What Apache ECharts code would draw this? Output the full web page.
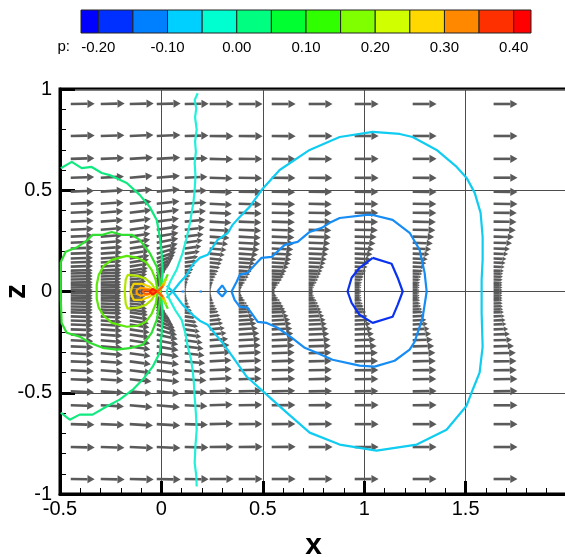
<!DOCTYPE html>
<html>
<head>
<meta charset="utf-8">
<script src="https://cdn.jsdelivr.net/npm/echarts@6/dist/echarts.min.js"></script>
<style>
    html, body { margin: 0; padding: 0; background: #fff; }
    #chart { width: 565px; height: 557px; }
</style>
</head>
<body>
<div id="chart"></div>
<script>
// colour legend (flood levels)
var levelEdges = [-0.225, -0.2, -0.15, -0.1, -0.05, 0, 0.05, 0.1, 0.15, 0.2, 0.25, 0.3, 0.35, 0.4, 0.425];
var floodColors = ['#0000ff', '#0030ff', '#0080ff', '#00d0ff', '#00ffd0', '#00ff80', '#00ff30',
    '#30ff00', '#80ff00', '#d0ff00', '#ffd800', '#ff8800', '#ff3000', '#ff0000'];
var legendTicks = [-0.2, -0.1, 0, 0.1, 0.2, 0.3, 0.4];

// vector grid: column x positions, row z positions (upper half, mirrored below)
var colX = [-0.447, -0.299, -0.156, -0.023, 0.115, 0.238, 0.381, 0.544, 0.726, 0.953, 1.239, 1.638];
var rowZ = [0.926, 0.768, 0.655, 0.562, 0.493, 0.433, 0.389, 0.345, 0.305, 0.271, 0.241, 0.212,
    0.187, 0.163, 0.143, 0.123, 0.103, 0.089, 0.074, 0.059, 0.044, 0.032, 0.020, 0.007];

// u component per column (same order as rowZ)
var uCols = [
    [1.00, 1.00, 0.99, 0.98, 0.97, 0.97, 0.96, 0.96, 0.95, 0.95, 0.94, 0.94, 0.94, 0.93, 0.93, 0.93, 0.92, 0.92, 0.92, 0.92, 0.92, 0.92, 0.92, 0.92],
    [1.00, 0.99, 0.98, 0.97, 0.96, 0.95, 0.94, 0.93, 0.92, 0.91, 0.90, 0.90, 0.89, 0.88, 0.88, 0.87, 0.87, 0.86, 0.86, 0.86, 0.85, 0.85, 0.85, 0.85],
    [1.00, 0.99, 0.97, 0.95, 0.93, 0.91, 0.90, 0.88, 0.87, 0.86, 0.85, 0.84, 0.83, 0.82, 0.80, 0.78, 0.76, 0.74, 0.72, 0.70, 0.68, 0.66, 0.65, 0.64],
    [1.00, 0.99, 0.98, 0.97, 0.96, 0.95, 0.94, 0.93, 0.92, 0.91, 0.90, 0.88, 0.85, 0.80, 0.75, 0.68, 0.60, 0.52, 0.44, 0.36, 0.28, 0.20, 0.14, 0.08],
    [1.00, 0.99, 0.97, 0.95, 0.93, 0.91, 0.89, 0.86, 0.83, 0.79, 0.75, 0.69, 0.63, 0.56, 0.50, 0.43, 0.36, 0.30, 0.24, 0.18, 0.14, 0.10, 0.08, 0.06],
    [1.00, 0.99, 0.98, 0.96, 0.95, 0.94, 0.92, 0.91, 0.88, 0.83, 0.77, 0.70, 0.63, 0.56, 0.50, 0.44, 0.37, 0.31, 0.25, 0.20, 0.15, 0.11, 0.08, 0.06],
    [1.00, 1.00, 0.99, 0.98, 0.97, 0.96, 0.96, 0.95, 0.94, 0.92, 0.90, 0.86, 0.80, 0.74, 0.68, 0.61, 0.54, 0.48, 0.42, 0.35, 0.27, 0.20, 0.14, 0.10],
    [1.00, 1.00, 0.99, 0.99, 0.98, 0.98, 0.97, 0.97, 0.96, 0.95, 0.94, 0.90, 0.86, 0.82, 0.77, 0.70, 0.62, 0.56, 0.50, 0.43, 0.35, 0.27, 0.20, 0.15],
    [1.00, 1.00, 0.99, 0.99, 0.98, 0.97, 0.97, 0.96, 0.95, 0.93, 0.90, 0.86, 0.81, 0.76, 0.71, 0.65, 0.58, 0.52, 0.46, 0.40, 0.34, 0.28, 0.23, 0.20],
    [1.00, 1.00, 1.00, 1.00, 0.99, 0.99, 0.99, 0.98, 0.97, 0.92, 0.87, 0.80, 0.74, 0.67, 0.61, 0.54, 0.48, 0.43, 0.38, 0.34, 0.31, 0.29, 0.28, 0.28],
    [1.00, 1.00, 1.00, 1.00, 1.00, 0.99, 0.99, 0.97, 0.95, 0.90, 0.84, 0.77, 0.70, 0.63, 0.57, 0.50, 0.44, 0.40, 0.36, 0.33, 0.31, 0.30, 0.29, 0.29],
    [1.00, 1.00, 1.00, 1.00, 1.00, 1.00, 0.97, 0.96, 0.93, 0.85, 0.77, 0.68, 0.61, 0.54, 0.50, 0.46, 0.43, 0.40, 0.39, 0.38, 0.37, 0.37, 0.37, 0.37]
];
// w component per column (upper half; sign flips below the axis)
var wCols = [
    [0.01, 0.02, 0.03, 0.03, 0.04, 0.04, 0.04, 0.04, 0.04, 0.04, 0.04, 0.04, 0.03, 0.03, 0.03, 0.03, 0.02, 0.02, 0.02, 0.02, 0.01, 0.01, 0.01, 0.00],
    [0.02, 0.03, 0.04, 0.05, 0.06, 0.06, 0.07, 0.07, 0.07, 0.07, 0.07, 0.07, 0.06, 0.06, 0.06, 0.05, 0.05, 0.04, 0.04, 0.03, 0.02, 0.02, 0.01, 0.00],
    [0.02, 0.04, 0.06, 0.08, 0.09, 0.10, 0.11, 0.12, 0.12, 0.13, 0.13, 0.13, 0.13, 0.13, 0.13, 0.12, 0.11, 0.10, 0.09, 0.08, 0.06, 0.04, 0.03, 0.01],
    [0.02, 0.04, 0.06, 0.08, 0.10, 0.11, 0.12, 0.13, 0.14, 0.16, 0.18, 0.20, 0.24, 0.28, 0.32, 0.36, 0.40, 0.43, 0.45, 0.45, 0.42, 0.36, 0.26, 0.10],
    [0.01, 0.02, 0.03, 0.04, 0.05, 0.06, 0.07, 0.08, 0.09, 0.10, 0.10, 0.10, 0.09, 0.08, 0.07, 0.06, 0.05, 0.04, 0.03, 0.02, 0.02, 0.01, 0.01, 0.00],
    [0.00, -0.01, -0.02, -0.03, -0.03, -0.04, -0.04, -0.05, -0.05, -0.06, -0.06, -0.06, -0.06, -0.06, -0.05, -0.05, -0.04, -0.04, -0.03, -0.03, -0.02, -0.02, -0.01, 0.00],
    [0.00, -0.01, -0.01, -0.02, -0.02, -0.03, -0.03, -0.04, -0.04, -0.05, -0.05, -0.05, -0.05, -0.05, -0.04, -0.04, -0.04, -0.03, -0.03, -0.02, -0.02, -0.01, -0.01, 0.00],
    [0.00, -0.01, -0.01, -0.01, -0.02, -0.02, -0.02, -0.03, -0.03, -0.04, -0.04, -0.04, -0.04, -0.04, -0.04, -0.03, -0.03, -0.03, -0.02, -0.02, -0.02, -0.01, -0.01, 0.00],
    [0.00, 0.00, -0.01, -0.01, -0.01, -0.02, -0.02, -0.02, -0.03, -0.03, -0.03, -0.03, -0.03, -0.03, -0.03, -0.03, -0.02, -0.02, -0.02, -0.02, -0.01, -0.01, -0.01, 0.00],
    [0.00, 0.00, 0.00, -0.01, -0.01, -0.01, -0.01, -0.02, -0.02, -0.02, -0.03, -0.03, -0.03, -0.03, -0.03, -0.02, -0.02, -0.02, -0.02, -0.01, -0.01, -0.01, 0.00, 0.00],
    [0.00, 0.00, 0.00, -0.01, -0.01, -0.01, -0.01, -0.02, -0.02, -0.02, -0.03, -0.03, -0.03, -0.03, -0.03, -0.02, -0.02, -0.02, -0.02, -0.01, -0.01, -0.01, 0.00, 0.00],
    [0.00, 0.00, 0.00, 0.00, -0.01, -0.01, -0.01, -0.01, -0.02, -0.02, -0.02, -0.02, -0.02, -0.02, -0.02, -0.02, -0.01, -0.01, -0.01, -0.01, -0.01, 0.00, 0.00, 0.00]
];

// contour lines of p, [x, z]
var cM015 = [[1.042, 0.166], [1.135, 0.137], [1.165, 0.068], [1.190, 0.0], [1.165, -0.066], [1.140, -0.125],
    [1.042, -0.155], [0.977, -0.115], [0.938, -0.056], [0.918, 0.0], [0.938, 0.068], [0.977, 0.117], [1.042, 0.166]];
var cM010 = [[0.346, 0.0], [0.371, 0.048], [0.386, 0.082], [0.425, 0.092], [0.475, 0.147], [0.494, 0.166],
    [0.544, 0.171], [0.608, 0.230], [0.672, 0.245], [0.731, 0.294], [0.791, 0.314], [0.830, 0.339],
    [0.879, 0.363], [1.012, 0.378], [1.042, 0.378], [1.140, 0.354], [1.224, 0.290], [1.273, 0.206],
    [1.298, 0.092], [1.308, 0.0], [1.288, -0.130], [1.249, -0.248], [1.224, -0.287], [1.150, -0.342],
    [1.051, -0.371], [0.977, -0.366], [0.844, -0.337], [0.766, -0.302], [0.707, -0.278], [0.642, -0.228],
    [0.573, -0.179], [0.519, -0.155], [0.475, -0.150], [0.425, -0.080], [0.386, -0.075], [0.361, -0.041], [0.346, 0.0]];
var cM010Diamond = [[0.276, 0.0], [0.300, 0.030], [0.320, 0.0], [0.300, -0.025], [0.276, 0.0]];
var cM010DotA = [[0.100, 0.0], [0.106, 0.006], [0.112, 0.0], [0.106, -0.006], [0.100, 0.0]];
var cM010DotB = [[0.188, 0.0], [0.194, 0.006], [0.200, 0.0], [0.194, -0.006], [0.188, 0.0]];
var cM005 = [[0.026, -0.031], [0.056, 0.0], [0.090, 0.043], [0.125, 0.082], [0.154, 0.132], [0.189, 0.166],
    [0.228, 0.181], [0.277, 0.255], [0.327, 0.289], [0.351, 0.329], [0.386, 0.368], [0.435, 0.418],
    [0.494, 0.501], [0.583, 0.600], [0.731, 0.699], [0.879, 0.763], [1.042, 0.788], [1.175, 0.778],
    [1.239, 0.763], [1.357, 0.699], [1.456, 0.615], [1.505, 0.561], [1.545, 0.487], [1.574, 0.388],
    [1.584, 0.270], [1.584, 0.156], [1.579, 0.058], [1.579, -0.105], [1.584, -0.273], [1.569, -0.401],
    [1.535, -0.485], [1.505, -0.564], [1.406, -0.683], [1.259, -0.756], [1.061, -0.786], [0.879, -0.756],
    [0.731, -0.697], [0.618, -0.598], [0.519, -0.509], [0.420, -0.420], [0.351, -0.322], [0.297, -0.248],
    [0.228, -0.164], [0.189, -0.144], [0.154, -0.115], [0.105, -0.066], [0.056, 0.0], [0.026, 0.028]];
var c000 = [[0.179, 0.979], [0.164, 0.945], [0.172, 0.905], [0.166, 0.860], [0.174, 0.800], [0.166, 0.740],
    [0.170, 0.690], [0.164, 0.635], [0.168, 0.570], [0.164, 0.502], [0.158, 0.440], [0.149, 0.388],
    [0.140, 0.335], [0.130, 0.289], [0.118, 0.240], [0.105, 0.191], [0.090, 0.150], [0.075, 0.107],
    [0.055, 0.070], [0.041, 0.043], [0.026, 0.0], [0.041, -0.041], [0.070, -0.095], [0.100, -0.140],
    [0.118, -0.205], [0.130, -0.273], [0.145, -0.330], [0.154, -0.386], [0.160, -0.450], [0.164, -0.519],
    [0.170, -0.600], [0.174, -0.682], [0.168, -0.760], [0.164, -0.845], [0.172, -0.910], [0.174, -0.963]];
var c005 = [[-0.496, 0.609], [-0.442, 0.640], [-0.393, 0.609], [-0.344, 0.615], [-0.294, 0.585], [-0.255, 0.575],
    [-0.171, 0.536], [-0.107, 0.477], [-0.058, 0.418], [-0.023, 0.353], [-0.008, 0.270], [0.001, 0.191],
    [0.006, 0.107], [0.001, 0.033], [-0.003, 0.0], [0.001, -0.041], [0.006, -0.115], [0.001, -0.213],
    [-0.008, -0.302], [-0.043, -0.371], [-0.092, -0.435], [-0.141, -0.485], [-0.206, -0.534],
    [-0.270, -0.568], [-0.339, -0.608], [-0.403, -0.608], [-0.452, -0.633], [-0.496, -0.598]];
var c010 = [[-0.496, 0.146], [-0.472, 0.196], [-0.413, 0.220], [-0.363, 0.255], [-0.339, 0.280], [-0.290, 0.280],
    [-0.245, 0.294], [-0.196, 0.280], [-0.146, 0.280], [-0.107, 0.255], [-0.058, 0.191], [-0.023, 0.122],
    [-0.008, 0.058], [-0.003, 0.0], [-0.008, -0.056], [-0.023, -0.140], [-0.048, -0.204], [-0.092, -0.263],
    [-0.146, -0.278], [-0.220, -0.287], [-0.290, -0.278], [-0.353, -0.253], [-0.403, -0.223],
    [-0.467, -0.204], [-0.492, -0.155], [-0.496, -0.041], [-0.496, 0.058], [-0.496, 0.146]];
var c015 = [[-0.018, 0.0], [-0.028, 0.058], [-0.048, 0.107], [-0.077, 0.146], [-0.117, 0.166], [-0.171, 0.176],
    [-0.245, 0.156], [-0.284, 0.127], [-0.309, 0.082], [-0.319, 0.033], [-0.319, 0.0], [-0.319, -0.036],
    [-0.309, -0.080], [-0.284, -0.120], [-0.245, -0.155], [-0.171, -0.174], [-0.117, -0.169],
    [-0.077, -0.150], [-0.048, -0.110], [-0.028, -0.061], [-0.018, 0.0]];
var c020 = [[-0.023, 0.0], [-0.048, 0.038], [-0.077, 0.063], [-0.117, 0.077], [-0.166, 0.082], [-0.176, 0.058],
    [-0.181, 0.0], [-0.176, -0.061], [-0.166, -0.085], [-0.117, -0.080], [-0.077, -0.066], [-0.048, -0.041], [-0.023, 0.0]];
var c025 = [[-0.028, 0.0], [-0.058, 0.023], [-0.097, 0.038], [-0.136, 0.038], [-0.146, 0.018], [-0.151, 0.0],
    [-0.146, -0.021], [-0.136, -0.041], [-0.097, -0.041], [-0.058, -0.026], [-0.028, 0.0]];
var c030 = [[-0.033, 0.0], [-0.068, 0.013], [-0.102, 0.018], [-0.122, 0.008], [-0.126, 0.0], [-0.122, -0.011],
    [-0.102, -0.021], [-0.068, -0.016], [-0.033, 0.0]];
var c035 = [[-0.033, 0.0], [-0.058, 0.006], [-0.082, 0.008], [-0.092, 0.0], [-0.082, -0.011], [-0.058, -0.009], [-0.033, 0.0]];
var c040 = [[-0.023, 0.0], [-0.043, 0.013], [-0.058, 0.0], [-0.043, -0.016], [-0.023, 0.0]];
// short branches fanning out from the stagnation point
var fan015 = [[0.032, 0.085], [-0.010, 0.0], [0.032, -0.085]];
var fan020 = [[0.026, 0.065], [-0.012, 0.0], [0.026, -0.065]];
var fan025 = [[0.020, 0.048], [-0.014, 0.0], [0.020, -0.048]];
var fan030 = [[0.014, 0.036], [-0.016, 0.0], [0.014, -0.036]];
var fan035 = [[0.008, 0.026], [-0.019, 0.0], [0.008, -0.026]];

var ARROW_SCALE = 0.118;
var ARROW_COLOR = '#5a5a5a';
var FONT = '"Liberation Sans", Arial, sans-serif';

function buildVectors() {
    var out = [];
    colX.forEach(function (x, i) {
        rowZ.forEach(function (z, j) {
            out.push([x, z, uCols[i][j], wCols[i][j]]);
            out.push([x, -z, uCols[i][j], -wCols[i][j]]);
        });
    });
    return out;
}

function buildLegend() {
    var out = [];
    for (var i = 0; i < floodColors.length; i++) {
        out.push([levelEdges[i], levelEdges[i + 1], i]);
    }
    return out;
}

// arrow: shaft from tail to head base, filled head
function renderArrow(params, api) {
    var x = api.value(0), z = api.value(1);
    var p0 = api.coord([x, z]);
    var p1 = api.coord([x + api.value(2) * ARROW_SCALE, z + api.value(3) * ARROW_SCALE]);
    var dx = p1[0] - p0[0], dy = p1[1] - p0[1];
    var len = Math.sqrt(dx * dx + dy * dy);
    if (len < 0.5) {
        return null;
    }
    var ux = dx / len, uy = dy / len;
    var hl = len * 0.3, hw = len * 0.17;
    var bx = p1[0] - ux * hl, by = p1[1] - uy * hl;
    return {
        type: 'group',
        children: [{
            type: 'line',
            shape: {x1: p0[0], y1: p0[1], x2: bx, y2: by},
            style: {stroke: ARROW_COLOR, lineWidth: 2.6}
        }, {
            type: 'polygon',
            shape: {points: [[p1[0], p1[1]], [bx - uy * hw, by + ux * hw], [bx + uy * hw, by - ux * hw]]},
            style: {fill: ARROW_COLOR}
        }]
    };
}

function renderLegendBox(params, api) {
    var a = api.coord([api.value(0), 1]);
    var b = api.coord([api.value(1), 0]);
    return {
        type: 'rect',
        shape: {x: a[0], y: a[1], width: b[0] - a[0], height: b[1] - a[1]},
        style: {fill: floodColors[api.value(2)], stroke: '#222', lineWidth: 1}
    };
}

function contour(data, color) {
    return {
        type: 'line',
        xAxisIndex: 0,
        yAxisIndex: 0,
        data: data,
        symbol: 'none',
        silent: true,
        z: 5,
        lineStyle: {color: color, width: 2.2}
    };
}

var chart = echarts.init(document.getElementById('chart'));
chart.setOption({
    animation: false,
    textStyle: {fontFamily: FONT},
    grid: [
        {left: 60, top: 89, width: 507, height: 405, show: true, borderColor: '#000', borderWidth: 3,
            outerBoundsMode: 'none', containLabel: false},
        {left: 81, top: 10, width: 450, height: 23, outerBoundsMode: 'none', containLabel: false}
    ],
    xAxis: [{
        gridIndex: 0,
        type: 'value',
        min: -0.5,
        max: 2,
        interval: 0.5,
        name: 'x',
        nameLocation: 'middle',
        nameGap: 37,
        nameMoveOverlap: false,
        nameTextStyle: {fontSize: 30, fontWeight: 'bold', color: '#000', fontFamily: FONT},
        axisLine: {show: true, onZero: false, lineStyle: {color: '#000', width: 3}},
        axisTick: {show: true, inside: true, length: 13, lineStyle: {color: '#000', width: 3}},
        minorTick: {show: true, splitNumber: 5, length: 6, lineStyle: {color: '#000', width: 1}},
        axisLabel: {fontSize: 20, color: '#000', margin: 5, showMaxLabel: false, fontFamily: FONT},
        splitLine: {show: true, lineStyle: {color: '#4d4d4d', width: 1}}
    }, {
        gridIndex: 1,
        type: 'value',
        min: -0.225,
        max: 0.425,
        name: 'p:',
        nameLocation: 'start',
        nameGap: 11,
        nameMoveOverlap: false,
        nameTextStyle: {fontSize: 15, color: '#000', fontFamily: FONT, verticalAlign: 'top', padding: [6, 0, 0, 0]},
        axisLine: {show: false},
        axisTick: {show: false},
        splitLine: {show: false},
        axisLabel: {
            customValues: legendTicks,
            fontSize: 15,
            color: '#000',
            margin: 7,
            fontFamily: FONT,
            formatter: function (v) { return v.toFixed(2); }
        }
    }],
    yAxis: [{
        gridIndex: 0,
        type: 'value',
        min: -1,
        max: 1,
        interval: 0.5,
        name: 'z',
        nameLocation: 'middle',
        nameGap: 28,
        nameRotate: 90,
        nameMoveOverlap: false,
        nameTextStyle: {fontSize: 30, fontWeight: 'bold', color: '#000', fontFamily: FONT},
        axisLine: {show: true, onZero: false, lineStyle: {color: '#000', width: 3}},
        axisTick: {show: true, inside: true, length: 15, lineStyle: {color: '#000', width: 3}},
        minorTick: {show: true, splitNumber: 5, length: 6, lineStyle: {color: '#000', width: 1}},
        axisLabel: {fontSize: 20, color: '#000', margin: 8, fontFamily: FONT},
        splitLine: {show: true, lineStyle: {color: '#4d4d4d', width: 1}}
    }, {
        gridIndex: 1,
        type: 'value',
        min: 0,
        max: 1,
        show: false
    }],
    series: [{
        type: 'custom',
        xAxisIndex: 1,
        yAxisIndex: 1,
        data: buildLegend(),
        renderItem: renderLegendBox,
        silent: true
    }, {
        type: 'custom',
        xAxisIndex: 0,
        yAxisIndex: 0,
        data: buildVectors(),
        dimensions: ['x', 'z', 'u', 'w'],
        encode: {x: 0, y: 1},
        renderItem: renderArrow,
        silent: true,
        z: 3
    },
        contour(cM015, '#0a32f0'),
        contour(cM010, '#168cf5'),
        contour(cM010Diamond, '#168cf5'),
        contour(cM010DotA, '#168cf5'),
        contour(cM010DotB, '#168cf5'),
        contour(cM005, '#10ccf0'),
        contour(c000, '#22f0d8'),
        contour(c005, '#10e880'),
        contour(c010, '#30e030'),
        contour(c015, '#5ce80a'),
        contour(fan015, '#5ce80a'),
        contour(c020, '#b0e600'),
        contour(fan020, '#b0e600'),
        contour(c025, '#f0d000'),
        contour(fan025, '#f0d000'),
        contour(c030, '#ffa000'),
        contour(fan030, '#ffa000'),
        contour(c035, '#ff6000'),
        contour(fan035, '#ff6000'),
        contour(c040, '#ff2000')
    ]
});
</script>
</body>
</html>
